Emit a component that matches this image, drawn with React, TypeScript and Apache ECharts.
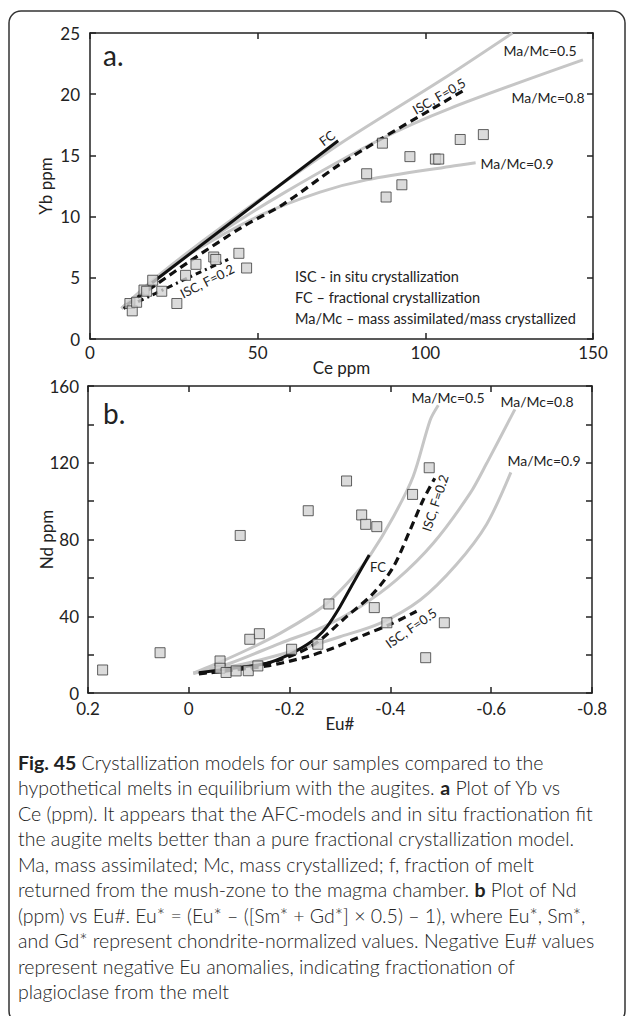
import React, { useEffect, useRef } from 'react';
import * as echarts from 'echarts';

// ---------- Panel a: Yb vs Ce ----------
const ceA = [11.9, 12.6, 13.9, 16.1, 16.9, 18.7, 21.4, 25.9, 28.5, 31.6, 36.9, 37.5, 44.4, 46.7, 82.5, 87.2, 88.3, 93.0, 95.4, 103.0, 104.0, 110.4, 117.3];
const ybA = [2.9, 2.3, 3.0, 4.0, 3.9, 4.8, 3.9, 2.9, 5.2, 6.1, 6.7, 6.5, 7.0, 5.8, 13.5, 16.0, 11.6, 12.6, 14.9, 14.7, 14.7, 16.3, 16.7];

const fcA = [[18.5, 4.6], [74, 16.2]];
const ma05A = [[9.4, 2.5], [20, 5.1], [40, 9.3], [74, 15.85], [105, 21.2], [126, 25]];
const ma08A = [[9.4, 2.5], [20, 4.9], [35, 8.0], [57.6, 11.9], [86.5, 16.3], [107.4, 18.85], [147, 22.8]];
const ma09A = [[9.4, 2.5], [20, 5.0], [30, 7.0], [50.7, 10.1], [68.6, 12.0], [82.5, 13.0], [107.4, 14.1], [115, 14.4]];
const isc05A = [[11, 2.8], [20, 4.5], [30, 6.4], [45.7, 9.2], [57.6, 11.0], [73.6, 14.1], [86.5, 16.3], [101.4, 18.7], [112, 20.4]];
const isc02A = [[10, 2.5], [19.4, 3.7], [30, 5.1], [41.2, 6.5]];

// ---------- Panel b: Nd vs Eu# ----------
const euB = [0.171, 0.057, -0.062, -0.062, -0.074, -0.094, -0.118, -0.121, -0.140, -0.137, -0.204, -0.102, -0.237, -0.313, -0.343, -0.351, -0.373, -0.444, -0.477, -0.278, -0.368, -0.393, -0.507, -0.470, -0.256];
const ndB = [12.0, 21.0, 16.7, 12.9, 10.7, 11.5, 11.6, 28.0, 30.9, 14.1, 22.8, 82.1, 95.0, 110.5, 92.8, 87.9, 86.7, 103.5, 117.4, 46.4, 44.5, 36.6, 36.6, 18.4, 25.4];

const fcB = [[-0.02, 10.5], [-0.088, 12.9], [-0.155, 15.5], [-0.201, 20.3], [-0.234, 25.2], [-0.254, 29], [-0.274, 34.5], [-0.3, 45], [-0.326, 57.2], [-0.358, 71.9]];
const ma05B = [[-0.009, 10.3], [-0.049, 14.6], [-0.115, 22.4], [-0.181, 31.1], [-0.247, 41.5], [-0.278, 47.6], [-0.326, 60.6], [-0.36, 71.9], [-0.406, 91.9], [-0.445, 112.7], [-0.479, 142.3], [-0.495, 150]];
const ma08B = [[-0.009, 10.3], [-0.082, 15.5], [-0.181, 25.9], [-0.267, 34.5], [-0.34, 45], [-0.412, 58.9], [-0.485, 78], [-0.558, 104], [-0.591, 119.7], [-0.647, 147.8]];
const ma09B = [[-0.009, 10.3], [-0.115, 15.5], [-0.214, 22.4], [-0.3, 29.3], [-0.379, 36.3], [-0.459, 48.5], [-0.531, 67], [-0.591, 88], [-0.639, 115]];
const isc02B = [[-0.02, 10.3], [-0.115, 13.2], [-0.181, 17.3], [-0.247, 25], [-0.313, 39.8], [-0.366, 51.9], [-0.406, 65.8], [-0.439, 84.9], [-0.465, 100.6], [-0.488, 111.9]];
const isc05B = [[-0.02, 10.0], [-0.155, 14.1], [-0.234, 18.9], [-0.287, 23.5], [-0.353, 30.8], [-0.40, 35.8], [-0.452, 42.6]];

const captionLines = [
  '{b|Fig. 45} Crystallization models for our samples compared to the',
  'hypothetical melts in equilibrium with the augites. {b|a} Plot of Yb vs',
  'Ce (ppm). It appears that the AFC-models and in situ fractionation fit',
  'the augite melts better than a pure fractional crystallization model.',
  'Ma, mass assimilated; Mc, mass crystallized; f, fraction of melt',
  'returned from the mush-zone to the magma chamber. {b|b} Plot of Nd',
  '(ppm) vs Eu#. Eu* = (Eu* – ([Sm* + Gd*] × 0.5) – 1), where Eu*, Sm*,',
  'and Gd* represent chondrite-normalized values. Negative Eu# values',
  'represent negative Eu anomalies, indicating fractionation of',
  'plagioclase from the melt',
];

const FONT = 'Lato';
const INK = '#222';
const GRAY = '#c6c6c6';

export default function App() {
  const ref = useRef<HTMLDivElement>(null);
  useEffect(() => {
    const chart = echarts.init(ref.current!, null, { renderer: 'svg' });
    const axisLine = { show: true, onZero: false, lineStyle: { color: INK, width: 1.5 } };
    const tick = { show: true, inside: true, length: 6, lineStyle: { color: INK, width: 1.5 } };
    const lbl = { color: INK, fontSize: 17, fontFamily: FONT };
    const nameStyle = { color: INK, fontSize: 17, fontFamily: FONT };
    const common = { type: 'value', splitLine: { show: false }, axisLine, axisTick: tick, nameMoveOverlap: false };

    const xAxes: any[] = [
      { ...common, gridIndex: 0, min: 0, max: 150, interval: 50, position: 'bottom', axisLabel: { ...lbl, margin: 5 }, name: 'Ce ppm', nameLocation: 'middle', nameGap: 20, nameTextStyle: nameStyle },
      { ...common, gridIndex: 0, min: 0, max: 150, interval: 50, position: 'top', axisLabel: { show: false } },
      { ...common, gridIndex: 1, min: -0.8, max: 0.2, interval: 0.2, inverse: true, position: 'bottom', axisLabel: { ...lbl, margin: 7, formatter: (v: number) => { const r = Number(v.toFixed(1)); return String(r === 0 ? 0 : r); } }, name: 'Eu#', nameLocation: 'middle', nameGap: 22, nameTextStyle: nameStyle },
      { ...common, gridIndex: 1, min: -0.8, max: 0.2, interval: 0.2, inverse: true, position: 'top', axisLabel: { show: false } },
    ];
    const yAxes: any[] = [
      { ...common, gridIndex: 0, min: 0, max: 25, interval: 5, position: 'left', axisLabel: { ...lbl, margin: 10 }, name: 'Yb ppm', nameLocation: 'middle', nameGap: 36, nameTextStyle: nameStyle },
      { ...common, gridIndex: 0, min: 0, max: 25, interval: 5, position: 'right', axisLabel: { show: false } },
      { ...common, gridIndex: 1, min: 0, max: 160, interval: 20, position: 'left', axisLabel: { ...lbl, margin: 9, formatter: (v: number) => (v % 40 === 0 ? String(v) : '') }, name: 'Nd ppm', nameLocation: 'middle', nameGap: 33, nameTextStyle: nameStyle },
      { ...common, gridIndex: 1, min: 0, max: 160, interval: 20, position: 'right', axisLabel: { show: false } },
    ];

    const line = (data: number[][], g: number, color: string, width: number, type: any, smooth = 0.3) => ({
      type: 'line', xAxisIndex: g * 2, yAxisIndex: g * 2, data, showSymbol: false, symbol: 'none', smooth, silent: true, z: 2,
      lineStyle: { color, width, type, cap: 'butt' },
    });
    const scatter = (xs: number[], ys: number[], g: number) => ({
      type: 'scatter', xAxisIndex: g * 2, yAxisIndex: g * 2, data: xs.map((x, i) => [x, ys[i]]), symbol: 'rect', symbolSize: 10, z: 5, silent: true,
      itemStyle: { color: '#d2d2d2', borderColor: '#3c3c3c', borderWidth: 1 },
    });

    const txt = (text: string, x: number, y: number, size: number, opts: any = {}) => ({
      type: 'text', x, y, rotation: opts.rot ? (opts.rot * Math.PI) / 180 : 0, silent: true, z: 10,
      style: { text, fill: INK, fontSize: size, fontFamily: FONT, align: opts.align || 'center', verticalAlign: 'middle', fontWeight: opts.weight || 'normal' },
    });

    const graphics: any[] = [
      { type: 'rect', shape: { x: 9, y: 11, width: 616, height: 1012, r: 12 }, style: { fill: 'none', stroke: '#333', lineWidth: 1.5 }, silent: true, z: 0 },
      txt('a.', 103, 55, 28, { align: 'left' }),
      txt('b.', 103, 413, 28, { align: 'left' }),
      // panel a labels
      txt('FC', 327, 138, 13, { rot: 36 }),
      txt('ISC, F=0.5', 439, 96, 13, { rot: 30 }),
      txt('ISC, F=0.2', 207, 281, 13, { rot: 27 }),
      txt('Ma/Mc=0.5', 540, 50, 14),
      txt('Ma/Mc=0.8', 548, 97, 14),
      txt('Ma/Mc=0.9', 517, 163, 14),
      txt('ISC - in situ crystallization', 295, 276, 14.5, { align: 'left' }),
      txt('FC – fractional crystallization', 295, 297, 14.5, { align: 'left' }),
      txt('Ma/Mc – mass assimilated/mass crystallized', 295, 318, 14.5, { align: 'left' }),
      // panel b labels
      txt('FC', 370, 567, 13, { align: 'left' }),
      txt('ISC, F=0.2', 435, 503, 13, { rot: 72 }),
      txt('ISC, F=0.5', 411, 628, 13, { rot: 35 }),
      txt('Ma/Mc=0.5', 448, 397, 14),
      txt('Ma/Mc=0.8', 537, 401, 14),
      txt('Ma/Mc=0.9', 544, 460, 14),
      ...captionLines.map((t, i) => ({
        type: 'text', x: 18, y: 762 + i * 25.5, silent: true, z: 10,
        style: { text: t, fill: INK, fontSize: 19.5, fontFamily: FONT, fontWeight: 300, align: 'left', verticalAlign: 'middle', rich: { b: { fontWeight: 'bold', fontSize: 19.5, fontFamily: FONT, fill: INK } } },
      })),
    ];

    chart.setOption({
      animation: false,
      backgroundColor: '#fff',
      grid: [
        { left: 90, top: 33, width: 503, height: 306 },
        { left: 88, top: 386, width: 504, height: 307 },
      ],
      xAxis: xAxes,
      yAxis: yAxes,
      series: [
        line(ma05A, 0, GRAY, 3, 'solid'),
        line(ma08A, 0, GRAY, 3, 'solid'),
        line(ma09A, 0, GRAY, 3, 'solid'),
        line(fcA, 0, '#111', 3, 'solid', 0),
        line(isc05A, 0, '#111', 3.2, [8, 5]),
        line(isc02A, 0, '#111', 3, [6, 4, 2, 4]),
        scatter(ceA, ybA, 0),
        line(ma05B, 1, GRAY, 3, 'solid'),
        line(ma08B, 1, GRAY, 3, 'solid'),
        line(ma09B, 1, GRAY, 3, 'solid'),
        line(fcB, 1, '#111', 3, 'solid'),
        line(isc02B, 1, '#111', 3.2, [8, 5]),
        line(isc05B, 1, '#111', 3.2, [8, 5]),
        scatter(euB, ndB, 1),
      ],
      graphic: graphics,
    });
    return () => chart.dispose();
  }, []);
  return <div ref={ref} style={{ position: 'absolute', left: 0, top: 0, width: 627, height: 1016, background: '#fff' }} />;
}
